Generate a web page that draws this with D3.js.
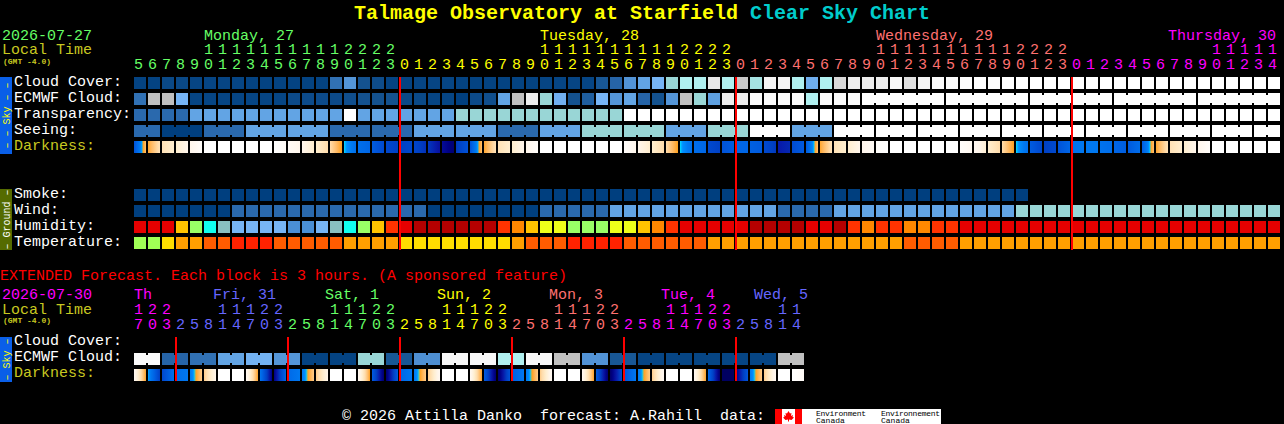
<!DOCTYPE html>
<html lang="en">
<head>
<meta charset="UTF-8">
<title>Talmage Observatory at Starfield Clear Sky Chart</title>
<script src="https://d3js.org/d3.v7.min.js"></script>
<style>
    html, body { margin: 0; padding: 0; background: #000; overflow: hidden; }
    text { font-family: "Liberation Mono", monospace; font-size: 15px; white-space: pre; }
</style>
</head>
<body>
<script>
// values are percent on the sky scale (0 clear/dark blue ... 100 overcast/white)
var cloudCover = [2,2,5,5,3,3,3,3,2,2,2,2,2,2,22,33,10,7,2,2,3,3,3,2,2,2,2,2,2,3,3,3,3,12,18,32,40,50,60,70,70,90,70,82,65,95,95,70,46,70,86,92,92,92,97,88,95,98,98,99,100,99,100,100,100,100,100,100,100,100,100,100,100,100,100,100,100,100,100,100,100,100];
var ecmwfCloud = [22,80,80,50,3,3,3,3,3,3,3,6,6,6,6,8,10,10,10,5,5,3,3,0,6,8,40,80,92,60,47,10,15,50,33,40,18,10,33,80,60,38,92,92,98,98,98,98,70,98,98,98,100,100,100,100,100,100,100,100,100,100,100,100,100,100,100,100,100,100,100,100,100,100,100,100,100,100,100,100,100,100];
var transparency = [20,20,20,20,40,40,40,40,40,40,40,40,40,40,40,100,40,40,40,40,40,40,40,60,60,60,60,60,60,60,60,60,60,60,60,100,100,100,100,100,100,100,100,100,100,100,100,100,100,100,100,100,100,100,100,100,100,100,100,100,100,100,100,100,100,100,100,100,100,100,100,100,100,100,100,100,100,100,100,100,100,100];
var seeing = [20,20,0,0,0,20,20,20,40,40,40,40,40,40,20,20,20,20,20,20,40,40,40,40,40,40,20,20,20,40,40,40,60,60,60,60,60,60,40,40,40,60,60,60,100,100,100,40,40,40,100,100,100,100,100,100,100,100,100,100,100,100,100,100,100,100,100,100,100,100,100,100,100,100,100,100,100,100,100,100,100,100];
var smoke = [0,0,0,0,0,0,0,0,0,0,0,0,0,0,0,0,0,0,0,0,0,0,0,0,0,0,0,0,0,0,0,0,0,0,0,0,0,0,0,0,0,0,0,0,0,0,0,0,0,0,0,0,0,0,0,0,0,0,0,0,0,0,0,0];
var wind = [0,0,0,0,0,0,0,20,20,20,20,20,20,20,20,20,20,20,20,20,20,0,0,0,0,0,0,0,0,20,20,20,20,20,40,40,40,40,40,40,40,40,40,40,40,40,20,20,20,20,40,40,40,40,40,40,40,40,40,40,40,40,40,60,60,60,60,60,60,60,60,60,60,60,60,60,60,60,60,60,60,60];
// humidity and temperature are indexes into their colour lists
var humidity = [8,8,8,5,3,2,1,0,0,0,0,10,10,0,1,2,3,5,7,8,9,9,9,9,9,9,7,6,5,4,4,3,3,3,4,4,5,6,7,8,8,8,8,8,9,9,9,9,8,8,9,7,6,7,7,6,6,7,7,8,8,8,8,8,8,8,8,8,8,8,8,8,8,8,8,8,8,8,8,8,8,8];
var temperature = [0,0,1,2,2,3,3,4,4,4,3,3,3,3,3,2,2,2,2,1,1,1,1,1,1,1,1,2,3,3,3,4,4,4,4,3,3,3,3,3,3,2,2,2,2,2,2,2,2,2,2,2,2,2,2,3,3,3,3,2,2,2,2,2,2,2,2,2,2,2,2,2,2,2,2,2,2,2,2,2,2,2];
// darkness: start and end of each block, limiting magnitude style value
var darkness = [[3,-1.2],[-0.4,-2.3],[-2.3,-3],[-3,-4],[-4,-5.5],[-6,-6],[-6,-6],[-6,-6],[-6,-6],[-6,-6],[-6,-5],[-5,-4],[-4,-3],[-3,-2],[-2,-0.2],[0,1.5],[1.5,2],[2.5,3.5],[3.6,4],[4,3.6],[3.7,4.4],[4.2,5.3],[5.5,6.4],[4.2,3],[3,-1.2],[-0.4,-2.3],[-2.3,-3],[-3,-4],[-4,-5.5],[-6,-6],[-6,-6],[-6,-6],[-6,-6],[-6,-6],[-6,-6],[-5.5,-4],[-4,-3],[-3,-2],[-2,-0.2],[0,1.5],[1.6,2],[3.5,4],[3,2.5],[2,2],[2.3,2.6],[3.5,4.2],[5,4.6],[3.4,2.6],[2.6,-1.2],[-0.4,-2.3],[-2.3,-3],[-3,-4],[-4,-5],[-5.5,-6],[-6,-6],[-6,-6],[-6,-6],[-6,-6],[-6,-6],[-5.5,-4.5],[-4.5,-3.2],[-3,-2],[-2,-0.2],[0,1.5],[2.5,3.6],[4,3.5],[3,2],[1.4,1],[1,1],[1.3,1.6],[2,2.4],[2.6,1.6],[2.5,-1.2],[-0.4,-2.3],[-2.3,-3],[-3,-4],[-4,-5.5],[-6,-6],[-6,-6],[-6,-6],[-6,-6],[-6,-6]];

var dayNames = ["Monday, 27","Tuesday, 28","Wednesday, 29","Thursday, 30"];
var dayHours = [19,24,24,15];
var firstHour = 5;
var rowLabels = ["Cloud Cover:","ECMWF Cloud:","Transparency:","Seeing:","Darkness:"];
var groundLabels = ["Smoke:","Wind:","Humidity:","Temperature:"];

// extended forecast, blocks of 3 hours
var extCloud = [98,98,18,18,22,22,40,40,48,48,33,33,2,2,2,2,60,60,12,12,30,30,97,97,97,97,70,70,97,97,80,80,32,32,12,12,3,3,3,3,3,3,3,3,3,3,80,80];
var extDarkness = [[-4.5,-0.3],[0.2,4],[3.6,1.5],[1.6,1],[1,-1.5],[-1.5,-4],[-6,-6],[-6,-6],[-4.5,-0.3],[1.2,6],[6,2],[1.8,1],[1,-1.5],[-1.5,-4],[-6,-6],[-6,-6],[-4.5,-0.3],[2.5,6.5],[6.5,2.5],[2,1],[1,-1.5],[-1.5,-4.5],[-6,-6],[-6,-6],[-4.5,-0.3],[2.5,6.5],[6.6,3],[2.4,1],[1,-1.5],[-1.5,-4.5],[-6,-6],[-6,-6],[-4.5,-0.3],[2.5,6.5],[6.6,3.5],[3,1],[1,-1.5],[-1.5,-4.5],[-6,-6],[-6,-6],[-4.5,-0.3],[2,6.5],[6.8,6.8],[6,2.8],[1,-1.5],[-1.5,-4.5],[-6,-6],[-6,-5]];
var extDayNames = ["Th","Fri, 31","Sat, 1","Sun, 2","Mon, 3","Tue, 4","Wed, 5"];
var extDayBlocks = [3,8,8,8,8,8,5];
var extFirstHour = 17;

var title1 = "Talmage Observatory at Starfield ";
var title2 = "Clear Sky Chart";
var footer = "\u00a9 2026 Attilla Danko  forecast: A.Rahill  data:";

var dayColors = ["#66ff66","#ffff00","#ff7070","#ff00ff","#6666ff"];
var extDayColors = ["#ff00ff","#6666ff","#66ff66","#ffff00","#ff7070","#ff00ff","#6666ff"];
var olive = "#c8c820";

var cell = 12, step = 14, left = 134;

var x = d3.scaleLinear().domain([0,1]).range([left,left+step]);
var skyColor = d3.scaleLinear()
    .domain([0,10,20,30,40,50,60,70,80,90,100])
    .range(["#003f7f","#14528f","#2a69ad","#4e8fd2","#62a4e4","#77b5f5","#99d6d6","#b0f0f0","#c0c0c0","#e8e8e8","#ffffff"]);
var humidColor = d3.scaleOrdinal().domain(d3.range(11))
    .range(["#77b5f5","#88c0c0","#11ffee","#99ff66","#eeff1a","#ffc400","#ff8800","#ff3300","#e60000","#b50000","#4a8fd5"]);
var tempColor = d3.scaleOrdinal().domain(d3.range(5))
    .range(["#a0ff55","#ffdd00","#ff9f00","#ff5c00","#ff2200"]);
var darkColor = d3.scaleLinear()
    .domain([-6,-4,-3,-2,-1,-0.1,0,0.3,1,2,3,4,5,6,7])
    .range(["#ffffff","#fff6ec","#ffeecf","#ffdcab","#ffbb66","#ff9c14","#00e0ff","#0090ff","#0078f0","#0066e6","#0052d8","#0040c4","#0818a8","#000084","#000058"]);

var svg = d3.select("body").append("svg").attr("width",1284).attr("height",424)
    .style("display","block").style("background","#000");
var defs = svg.append("defs");

// a text helper, most of the chart is labels
function label(t,px,py,color,size,weight) {
    return svg.append("text").attr("x",px).attr("y",py).attr("fill",color)
        .style("font-size",(size||15)+"px").style("font-weight",weight||"normal").text(t);
}

function drawRow(values,top,color,join) {
    svg.append("g").selectAll("rect.c").data(values).enter().append("rect")
        .attr("x",function(d,i){ return x(i); })
        .attr("y",top).attr("width",cell).attr("height",cell)
        .attr("fill",function(d){ return color(d); });
    if (!join) return;
    // bridge the gap inside a forecast block
    var bridged = d3.range(values.length-1).filter(join);
    svg.append("g").selectAll("rect.b").data(bridged).enter().append("rect")
        .attr("x",function(i){ return x(i)+cell; })
        .attr("y",top+2).attr("width",step-cell).attr("height",cell-4)
        .attr("fill",function(i){ return color(values[i]); });
}

var gradId = 0;
function drawDarkness(values,top) {
    var offsets = d3.range(0,1.0001,1/12);
    svg.append("g").selectAll("rect").data(values).enter().append("rect")
        .attr("x",function(d,i){ return x(i); })
        .attr("y",top).attr("width",cell).attr("height",cell)
        .attr("fill",function(d){
            var id = "dark"+(gradId++);
            var g = defs.append("linearGradient").attr("id",id);
            offsets.forEach(function(o){
                g.append("stop").attr("offset",o)
                    .attr("stop-color",darkColor(d[0]+(d[1]-d[0])*o));
            });
            return "url(#"+id+")";
        });
}

function redLines(cols,top,bottom) {
    svg.append("g").selectAll("rect").data(cols).enter().append("rect")
        .attr("x",function(c){ return x(c)-1; })
        .attr("y",top).attr("width",2).attr("height",bottom-top)
        .attr("fill","#ff0000");
}

function sideBar(top,bottom,fill,txt,color) {
    svg.append("rect").attr("x",0).attr("y",top).attr("width",12).attr("height",bottom-top).attr("fill",fill);
    svg.append("text").attr("transform","translate(10,"+((top+bottom)/2)+") rotate(-90)")
        .attr("text-anchor","middle").attr("fill",color)
        .style("font-size","10px").text(txt);
}

// title
var t = svg.append("text").attr("x",354).attr("y",19).style("font-size","20px").style("font-weight","bold");
t.append("tspan").attr("fill","#ffff00").text(title1);
t.append("tspan").attr("fill","#00cccc").text(title2);

// header block
label("2026-07-27",2,40,dayColors[0]);
label("Local Time",2,54,olive);
label("(GMT -4.0)",3,64,olive,8,"bold");

var start = 0;
var hourCols = [];
dayHours.forEach(function(n,day){
    d3.range(n).forEach(function(k){
        hourCols.push({col:start+k, hour:(day===0?firstHour:0)+k, color:dayColors[day]});
    });
    start += n;
});
svg.append("g").selectAll("text").data(hourCols).enter().append("text")
    .attr("x",function(d){ return x(d.col); }).attr("y",69)
    .attr("fill",function(d){ return d.color; }).text(function(d){ return d.hour%10; });
svg.append("g").selectAll("text").data(hourCols.filter(function(d){ return d.hour>=10; })).enter().append("text")
    .attr("x",function(d){ return x(d.col); }).attr("y",54)
    .attr("fill",function(d){ return d.color; }).text(function(d){ return Math.floor(d.hour/10); });

label(dayNames[0],x(5),40,dayColors[0]);
label(dayNames[1],x(29),40,dayColors[1]);
label(dayNames[2],x(53),40,dayColors[2]);
label(dayNames[3],1168,40,dayColors[3]);

// main rows
rowLabels.forEach(function(s,i){
    label(s,14,86+16*i,i===4?olive:"#fff");
});
groundLabels.forEach(function(s,i){
    label(s,14,198+16*i,"#fff");
});

drawRow(cloudCover,77,skyColor);
drawRow(ecmwfCloud,93,skyColor,function(i){ return i>=52 && (i-52)%6!==5; });
drawRow(transparency,109,skyColor);
drawRow(seeing,125,skyColor,function(i){ return (i+1)%3!==2; });
drawDarkness(darkness,141);
drawRow(smoke,189,skyColor);
drawRow(wind,205,skyColor);
drawRow(humidity,221,humidColor);
drawRow(temperature,237,tempColor);

redLines([19,43,67],77,250);
sideBar(77,154,"#0a5fe8","\u2013 \u2013 Sky \u2013 \u2013","#ffff00");
sideBar(189,250,"#556b00","\u2013 Ground \u2013","#ffffff");

// extended forecast
label("EXTENDED Forecast. Each block is 3 hours. (A sponsored feature)",0,280,"#ff0000");
label("2026-07-30",2,299,extDayColors[0]);
label("Local Time",2,314,olive);
label("(GMT -4.0)",3,323,olive,8,"bold");

var extCols = [];
var extStart = 0;
extDayBlocks.forEach(function(n,day){
    d3.range(n).forEach(function(k){
        var col = extStart+k;
        extCols.push({col:col, hour:(extFirstHour+3*col)%24, color:extDayColors[day]});
    });
    extStart += n;
});
svg.append("g").selectAll("text").data(extCols).enter().append("text")
    .attr("x",function(d){ return x(d.col); }).attr("y",329)
    .attr("fill",function(d){ return d.color; }).text(function(d){ return d.hour%10; });
svg.append("g").selectAll("text").data(extCols.filter(function(d){ return d.hour>=10; })).enter().append("text")
    .attr("x",function(d){ return x(d.col); }).attr("y",314)
    .attr("fill",function(d){ return d.color; }).text(function(d){ return Math.floor(d.hour/10); });

extDayNames.forEach(function(s,i){
    var px = i===0 ? x(0) : (i===6 ? 754 : x(6+8*(i-1))-5);
    label(s,px,299,extDayColors[i]);
});

label("Cloud Cover:",14,345,"#fff");
label("ECMWF Cloud:",14,361,"#fff");
label("Darkness:",14,377,olive);

drawRow(extCloud,353,skyColor,function(i){ return i%2===0; });
drawDarkness(extDarkness,369);
redLines([3,11,19,27,35,43],337,381);
sideBar(337,382,"#0a5fe8","\u2013 Sky \u2013","#ffff00");

// footer
label(footer,342,420,"#fff");
var logo = svg.append("g");
logo.append("rect").attr("x",775).attr("y",409).attr("width",166).attr("height",15).attr("fill","#fff");
logo.append("rect").attr("x",775).attr("y",409).attr("width",7).attr("height",15).attr("fill","#ff0000");
logo.append("rect").attr("x",795).attr("y",409).attr("width",7).attr("height",15).attr("fill","#ff0000");
logo.append("path").attr("d","M788.5 411l1.5 2.5 1.5-.5-.5 3 2-1-.5 2 1.5.5-2.5 2.5-2.5-.5v2h-1v-2l-2.5.5-2.5-2.5 1.5-.5-.5-2 2 1-.5-3 1.5.5z").attr("fill","#ff0000");
[["Environment",816,50],["Environnement",881,59]].forEach(function(d){
    svg.append("text").attr("x",d[1]).attr("y",416).attr("fill","#000").attr("textLength",d[2]).style("font-size","8px").text(d[0]);
    svg.append("text").attr("x",d[1]).attr("y",423).attr("fill","#000").style("font-size","8px").text("Canada");
});
</script>
</body>
</html>
